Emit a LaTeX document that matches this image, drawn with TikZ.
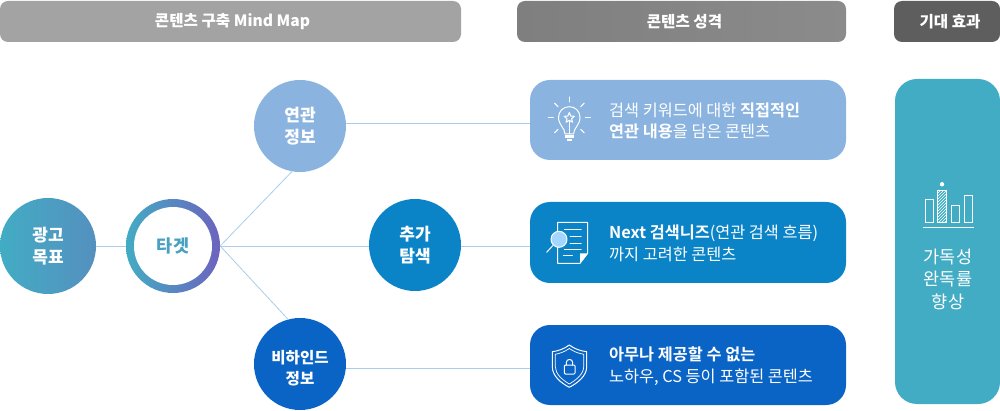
\documentclass[tikz,border=0pt]{standalone}
\usepackage{fontspec}
\setmainfont{Noto Sans CJK KR}[BoldFont={Noto Sans CJK KR Bold}]
\newfontfamily\midfont{Noto Sans CJK KR Medium}
\usetikzlibrary{patterns,positioning,calc}
\definecolor{headA}{HTML}{A3A3A3}
\definecolor{headBl}{HTML}{7F7F7F}
\definecolor{headBr}{HTML}{8B8B8B}
\definecolor{headC}{HTML}{5E5E5E}
\definecolor{paleblue}{HTML}{8AB4DF}
\definecolor{midblue}{HTML}{0A84C7}
\definecolor{deepblue}{HTML}{0A64C5}
\definecolor{tealblue}{HTML}{42ACC4}
\definecolor{goalend}{HTML}{5590BF}
\definecolor{violet}{HTML}{6D63BE}
\definecolor{linkblue}{HTML}{A9CDEB}
\definecolor{lensblue}{HTML}{A2D6FF}
\begin{document}
\begin{tikzpicture}[x=1pt,y=-1pt,
    headbox/.style={rounded corners=8pt,text=white,font=\fontsize{15.6}{18}\midfont\bfseries,inner sep=0pt},
    bubble/.style={circle,minimum size=92pt,inner sep=0pt,text=white,align=center,font=\fontsize{17}{22}\midfont\bfseries},
    card/.style={rounded corners=20pt,minimum width=316pt,minimum height=80pt,inner sep=0pt},
    cardtext/.style={anchor=west,text=white,align=left,inner sep=0pt,font=\fontsize{16.3}{21.5}\selectfont},
    link/.style={draw=linkblue,line width=0.8pt},
    icon/.style={draw=white,line width=1pt,line join=round,line cap=round}]

    \useasboundingbox (0,0) rectangle (1000,411);

    % top headers
    \node[headbox,fill=headA,minimum width=461pt,minimum height=41pt] (headmap) at (230.5,21.5) {\hspace*{4pt}콘텐츠 구축 Mind Map};
    \node[headbox,left color=headBl,right color=headBr,minimum width=329pt,minimum height=41pt] (headkind) at (681.5,21.5) {\hspace*{6pt}콘텐츠 성격};
    \node[headbox,fill=headC,minimum width=106pt,minimum height=41pt] (headgoal) at (947,21.5) {\hspace*{6pt}기대 효과};

    % mind map
    \node[bubble,minimum size=96pt,left color=tealblue,middle color=tealblue,right color=goalend] (goal) at (48,246) {광고\\목표};
    \node[circle,minimum size=94pt,left color=tealblue,right color=violet] (target) at (173,246) {};
    \node[circle,minimum size=78pt,inner sep=0pt,fill=white,text=tealblue!85!violet,font=\fontsize{17.5}{20}\midfont\bfseries] (targetin) at (target) {타겟};
    \node[bubble,fill=paleblue] (related) at (300,126) {연관\\정보};
    \node[bubble,fill=midblue] (extra) at (415,245) {추가\\탐색};
    \node[bubble,fill=deepblue,font=\fontsize{15.6}{21.5}\midfont\bfseries] (behind) at (300,364) {\rule{0pt}{22pt}비하인드\\정보};

    % cards
    \node[card,fill=paleblue] (cardrel) at (688,120) {};
    \node[card,fill=midblue,minimum height=81pt] (cardext) at (688,242.5) {};
    \node[card,fill=deepblue] (cardbeh) at (688,365) {};
    \node[rounded corners=22pt,fill=tealblue,minimum width=105pt,minimum height=325pt,inner sep=0pt] (effect) at (947.5,241.5) {};

    \node[cardtext] (textrel) at (609,121) {검색 키워드에 대한 \textbf{직접적인}\\\textbf{연관 내용}을 담은 콘텐츠};
    \node[cardtext] (textext) at (609,243.5) {\textbf{Next 검색니즈}(연관 검색 흐름)\\까지 고려한 콘텐츠};
    \node[cardtext] (textbeh) at (609,366) {\textbf{아무나 제공할 수 없는}\\노하우, CS 등이 포함된 콘텐츠};
    \node[text=white,align=center,inner sep=0pt,font=\fontsize{17.5}{22.5}\selectfont] (texteff) at (948,279) {가독성\\완독률\\향상};

    % connectors
    \path[link]
        (goal) edge (target)
        (target.east) edge (related.260)
        (target.east) edge (extra.west |- target.east)
        (target.east) edge (behind.105)
        (related.3) edge (related.3 -| cardrel.west)
        (extra.east |- target.east) edge (target.east -| cardext.west)
        (behind.-5) edge (behind.-5 -| cardbeh.west)
    ;

    % bulb
    \foreach \ang in {0,45,135,180,225,315,270}{
        \draw[icon] (569.3,118) ++(\ang:16) -- ++(\ang:5);
    }
    \draw[icon] (565,134) .. controls (565,128) and (558.5,125) .. (558.5,117.5) .. controls (558.5,111) and (563.5,106.7) .. (569.3,106.7) .. controls (575.1,106.7) and (580,111) .. (580,117.5) .. controls (580,125) and (573.6,128) .. (573.6,134) -- cycle;
    \draw[icon] (569.3,112.5) -- (570.8,116.1) -- (574.4,116.3) -- (571.6,118.7) -- (572.5,122.3) -- (569.3,120.3) -- (566.1,122.3) -- (567,118.7) -- (564.2,116.3) -- (567.8,116.1) -- cycle;
    \draw[icon] (569.3,121) -- (569.3,134);
    \fill[white] (565,135.3) rectangle (573.6,138.5);
    \fill[white] (566.8,139) rectangle (571.8,141.3);

    % document and lens
    \draw[icon] (557.7,231) -- (557.7,222.3) -- (587.7,222.3) -- (587.7,253.3) -- (580,263.3) -- (557.7,263.3) -- (557.7,247);
    \fill[white] (587.7,253.3) -- (580,253.3) -- (580,263.3) -- cycle;
    \foreach \yy/\xa in {230/564.3,236.7/570,243.3/570,250/564.3}{
        \draw[icon] (\xa,\yy) -- (581,\yy);
    }
    \draw[icon] (563.3,256) -- (572.3,256);
    \draw[icon,fill=lensblue] (559,239.3) circle[radius=8];
    \draw[icon] (552.7,245.7) -- (546.7,252.3);

    % shield and lock
    \draw[icon] (569.3,345) .. controls (564,349) and (558,351) .. (552.3,351.7) -- (552.3,366.7) .. controls (552.3,376) and (561,383) .. (569.3,387.3) .. controls (577.6,383) and (586.7,376) .. (586.7,366.7) -- (586.7,351.7) .. controls (580.6,351) and (574.6,349) .. (569.3,345) -- cycle;
    \draw[icon,line width=0.7pt] (569.3,348.5) .. controls (565,351.5) and (560,353.5) .. (555.3,354.3) -- (555.3,366.7) .. controls (555.3,374) and (562.5,380) .. (569.3,384) .. controls (576.1,380) and (583.7,374) .. (583.7,366.7) -- (583.7,354.3) .. controls (578.6,353.5) and (573.6,351.5) .. (569.3,348.5) -- cycle;
    \draw[icon,rounded corners=1pt] (564.3,365) rectangle (575,374);
    \draw[icon] (566.3,365) -- (566.3,362.5) .. controls (566.3,358.5) and (572.7,358.5) .. (572.7,362.5) -- (572.7,365);

    % bar chart
    \draw[icon] (925.7,222.7) rectangle (933.3,199.3);
    \draw[icon,pattern=north east lines,pattern color=white] (937.7,222.7) rectangle (946.7,190.7);
    \draw[icon] (951.7,222.7) rectangle (959.3,205.7);
    \draw[icon] (964,222.7) rectangle (972.3,195.7);
    \draw[icon,line width=1.4pt,line cap=butt] (923.3,227.7) -- (974,227.7);
    \fill[white] (942,184.3) circle[radius=2.2];

\end{tikzpicture}
\end{document}
